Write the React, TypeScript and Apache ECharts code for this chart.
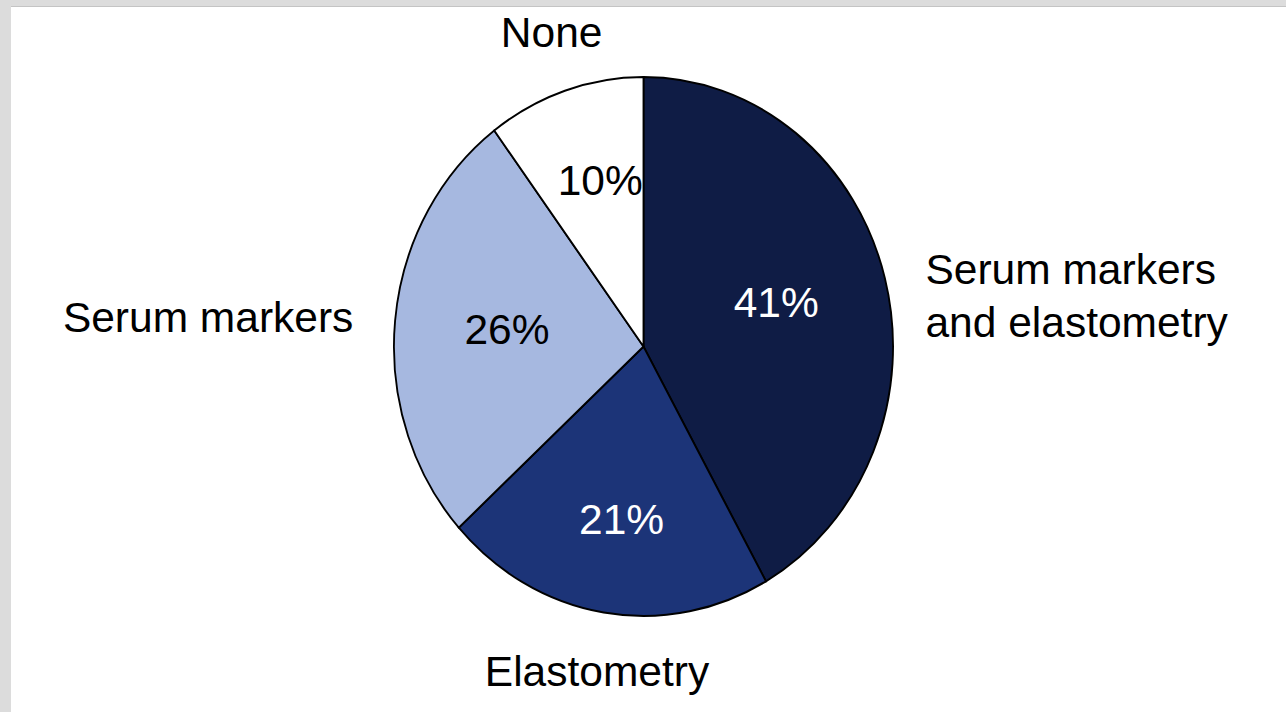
import React, { useEffect, useRef } from "react";
import * as echarts from "echarts";

const categories = ["Serum markers\nand elastometry", "Elastometry", "Serum markers", "None"];
const values = [41, 21, 26, 10];
const sliceColors = ["#0f1c45", "#1c3478", "#a6b8e0", "#ffffff"];
const percentColors = ["#ffffff", "#ffffff", "#000000", "#000000"];

const CX = 643.5;
const CY = 346.5;
const RX = 249.5;
const RY = 269.5;
const FONT = "'Liberation Sans', Arial, Helvetica, sans-serif";
const FS = 42.5;
const LH = 53;

export default function App() {
  const ref = useRef<HTMLDivElement>(null);
  useEffect(() => {
    if (!ref.current) return;
    const chart = echarts.init(ref.current, undefined, { renderer: "svg" });
    const total = values.reduce((a, b) => a + b, 0);
    const renderItem = (params: any, api: any) => {
      const i = params.dataIndex;
      const v = api.value(0);
      let before = 0;
      for (let k = 0; k < i; k++) before += values[k];
      const a0 = -Math.PI / 2 + (2 * Math.PI * before) / total;
      const a1 = a0 + (2 * Math.PI * v) / total;
      const mid = (a0 + a1) / 2;
      const ux = Math.cos(mid);
      const uy = Math.sin(mid);
      const ix = CX + 0.55 * RX * ux;
      const iy = CY + 0.65 * RY * uy;
      const ex = CX + RX * ux;
      const ey = CY + RY * uy;
      const ox = ex + 42 * ux;
      const oy = ey + 33 * uy;
      const side = Math.abs(ux) > 0.5;
      const align = ux > 0.5 ? "left" : ux < -0.5 ? "right" : "center";
      const vAlign = side ? "top" : uy < 0 ? "bottom" : "top";
      const ty = side ? oy - LH / 2 : oy;
      return {
        type: "group",
        children: [
          {
            type: "sector",
            x: CX,
            y: CY,
            scaleX: RX / RY,
            shape: { cx: 0, cy: 0, r: RY, r0: 0, startAngle: a0, endAngle: a1, clockwise: true },
            style: { fill: sliceColors[i], stroke: "#000000", lineWidth: 2, strokeNoScale: true },
          },
          {
            type: "text",
            z2: 10,
            style: {
              text: `${v}%`,
              x: ix,
              y: iy,
              fill: percentColors[i],
              font: `${FS}px ${FONT}`,
              align: "center",
              verticalAlign: "middle",
            },
          },
          {
            type: "text",
            z2: 10,
            style: {
              text: categories[i],
              x: ox,
              y: ty,
              fill: "#000000",
              font: `${FS}px ${FONT}`,
              lineHeight: LH,
              align,
              verticalAlign: vAlign,
            },
          },
        ],
      };
    };
    chart.setOption({
      animation: false,
      tooltip: { show: false },
      series: [
        {
          type: "custom",
          coordinateSystem: "none",
          silent: true,
          renderItem,
          data: values.map((v, i) => ({ name: categories[i], value: [v] })),
        },
      ],
    });
    return () => chart.dispose();
  }, []);
  return (
    <div style={{ position: "fixed", left: 0, top: 0, width: 1286, height: 712, background: "#dcdcdc" }}>
      <div
        style={{
          position: "absolute",
          left: 11,
          top: 6,
          width: 1275,
          height: 706,
          background: "#ffffff",
          borderTop: "1px solid #c4c4c4",
        }}
      />
      <div ref={ref} style={{ position: "absolute", left: 0, top: 0, width: 1286, height: 712 }} />
    </div>
  );
}
